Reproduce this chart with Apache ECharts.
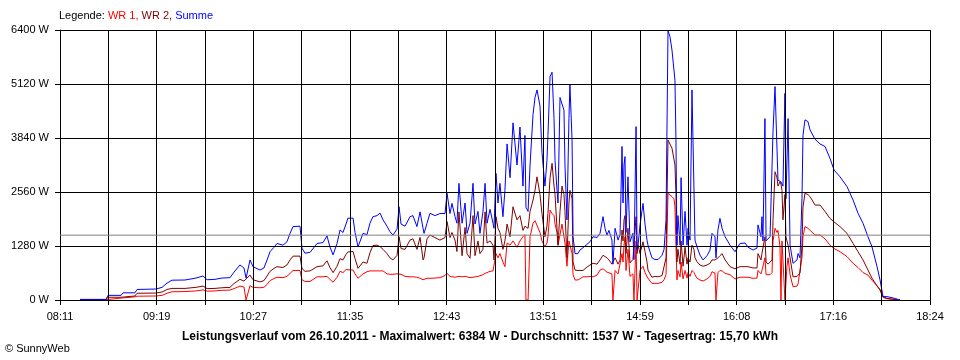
<!DOCTYPE html>
<html><head><meta charset="utf-8">
<script src="https://cdn.jsdelivr.net/npm/echarts@6/dist/echarts.min.js"></script>
<style>html,body{margin:0;padding:0;background:#fff}#c{width:960px;height:360px}</style>
</head><body><div id="c"></div>
<script>
// time of day in minutes since midnight
const times = [505.1,523.4,524.8,534.0,535.4,543.8,545.3,558.6,562.9,566.4,569.9,579.1,586.8,591.8,594.6,600.2,605.1,610.8,613.6,617.8,
620.6,622.1,623.5,624.9,627.0,631.9,634.7,636.9,639.0,641.8,643.9,648.1,650.9,653.1,655.2,660.1,661.5,663.6,667.2,672.1,
676.3,679.1,681.2,683.4,686.2,688.3,690.4,692.5,693.9,697.5,698.9,701.0,702.4,704.5,707.3,709.4,711.5,714.4,716.5,718.6,
721.4,723.5,725.6,728.5,729.9,731.3,734.1,737.6,739.7,742.5,744.7,746.8,747.5,749.6,751.7,755.2,758.7,762.3,763.7,765.8,
767.2,769.3,770.7,772.1,774.3,776.4,777.8,779.9,782.0,783.4,785.5,786.9,789.0,790.5,791.9,794.0,796.1,796.8,798.2,799.6,
801.0,803.1,804.5,806.0,808.1,810.2,813.0,815.1,817.2,818.6,819.3,820.8,822.2,824.3,825.7,827.1,829.2,830.6,832.7,834.1,
834.8,836.3,837.7,839.1,839.8,841.2,841.9,843.3,844.7,846.1,846.8,848.2,849.6,850.3,851.8,852.5,853.9,856.0,857.4,859.5,
862.3,864.4,866.6,869.4,871.5,873.6,875.0,876.4,877.8,879.9,880.6,882.1,884.2,885.6,887.0,887.7,888.4,889.1,889.8,891.2,
892.6,894.7,895.4,896.9,897.6,898.3,899.7,901.8,903.2,904.6,905.3,906.7,908.1,910.2,912.4,915.2,916.6,918.0,919.4,920.8,
922.2,923.6,924.3,925.0,925.7,926.4,927.9,928.6,930.0,931.4,932.8,933.5,934.9,936.3,937.7,938.4,939.8,941.9,944.1,946.9,
949.0,950.4,952.5,953.2,953.9,954.6,956.0,957.5,959.6,963.1,966.6,968.0,970.1,973.7,975.8,979.3,982.1,982.8,984.9,985.6,
986.3,987.7,988.5,989.9,991.3,992.7,993.4,994.8,996.2,996.9,998.3,999.0,999.7,1000.4,1001.8,1002.5,1003.2,1004.0,1005.4,1007.5,
1010.3,1011.0,1012.4,1013.8,1014.5,1015.9,1018.0,1019.5,1020.9,1023.0,1024.4,1026.5,1030.0,1033.5,1036.4,1040.6,1045.5,1049.8,1053.3,1056.8,
1060.3,1063.1,1066.7,1068.8,1070.9,1073.7,1077.9,1082.9];

const summe = [15,15,110,110,170,170,250,260,300,400,470,474,520,570,480,490,520,530,660,830,
760,520,530,950,790,710,760,950,1145,1250,1340,1300,1380,1580,1740,1750,1230,1110,1130,1340,
1360,1520,1260,1070,1340,1660,1600,1800,1940,1940,1600,1260,1300,1580,1550,1820,1975,2000,2060,1900,
1750,1620,1540,1680,2210,1800,1750,1975,2000,1740,2090,1700,1580,1820,2055,2000,2050,2050,2530,2050,
2290,1980,1820,2765,1820,2300,1580,1820,2765,1800,2100,1580,2090,2765,1820,2150,1820,1700,3000,2300,
2765,1975,2600,3700,2900,4200,3200,4100,2700,3900,2200,2100,3200,4400,4800,4980,4600,3500,2700,3300,
3900,5300,5400,4300,3300,2600,2300,4800,4820,4500,3200,1900,4300,5100,3790,1500,1100,1100,1185,1240,
1320,1380,1500,1480,1580,1975,1700,1540,1650,1420,850,1700,1420,1550,3640,2300,3200,3400,1600,2920,
1380,1580,960,4110,1200,1300,1780,2290,1800,1420,1300,1145,1000,960,960,1060,1200,1900,6384,6240,
5925,5880,5210,3800,1300,2000,1300,2900,1300,2100,1300,1700,1420,4980,4980,1420,1265,1065,950,1050,
1185,1580,1500,1000,1000,1660,1935,1700,1500,1300,1145,1185,1340,1350,1250,1185,1230,1780,1500,1975,
1400,4300,1400,1400,1500,1500,4000,5060,5060,2840,2840,2800,2750,2700,4900,2400,2400,4300,1300,870,
950,1100,1000,2400,3900,4270,4230,4030,4000,3810,3790,3700,3640,3360,3080,2920,2690,2370,2055,1820,
1500,1265,790,475,80,80,50,0];

const wr2 = [8,8,65,65,95,95,160,165,190,250,275,275,300,330,270,275,290,300,390,490,
450,500,510,590,480,430,460,570,680,750,790,770,830,950,1040,1040,750,680,690,790,
810,930,770,650,800,980,950,1080,1140,1150,980,750,790,900,870,1120,1290,1300,1265,1200,
1100,1000,950,1060,1500,1220,1200,1420,1450,1200,1485,950,1000,1450,1540,1480,1420,1480,1860,1480,
1600,1420,1150,2090,1050,1720,1100,990,2000,1050,1400,1100,1200,2090,1350,1400,1300,950,1975,1700,
1600,1200,1400,1800,1500,2210,1900,2000,1650,1750,1750,1700,2100,2370,2600,2920,2500,2050,1500,1750,
2050,2900,3240,2700,2500,1700,1300,2100,2700,2500,2100,1000,2300,2600,2400,900,710,700,690,700,
780,830,870,850,950,1060,1100,1000,950,850,850,1000,850,950,1660,1400,1900,2000,1100,1700,
880,960,960,1975,1100,1300,1100,1380,1150,900,710,620,540,560,550,580,620,1000,3790,3750,
3600,3560,3200,2500,900,1200,850,1400,800,1250,850,1000,900,1300,1200,1000,910,830,800,830,
870,950,950,950,950,1000,1050,1100,950,790,740,710,790,790,790,760,760,1100,950,1100,
1100,1500,900,850,900,950,1900,3040,2900,2700,2800,2750,2600,1900,2500,1500,1400,1300,1000,550,
560,600,640,1300,2200,2530,2500,2450,2370,2250,2270,2250,2100,1935,1850,1740,1580,1340,1145,950,
710,520,330,250,80,40,20,0];

const wr1 = [7,7,45,45,75,75,90,95,110,160,195,200,215,240,210,215,230,235,270,330,
310,0,0,340,300,290,300,370,460,510,540,530,560,630,700,700,480,440,440,550,
550,560,490,420,540,680,650,720,720,710,620,515,515,620,670,690,690,690,690,690,
620,610,610,620,640,610,560,550,550,540,515,480,470,515,515,520,530,580,630,560,
560,540,560,560,550,560,550,530,540,540,560,560,600,630,670,680,690,690,1100,1000,
1100,900,790,1350,1300,1400,1250,1400,1500,1550,0,0,1500,1820,1880,1900,1600,1400,1260,1350,
1500,2130,2050,2000,1800,1600,1300,1300,1800,1500,1350,800,1400,1400,1100,600,475,475,500,550,
550,560,550,590,710,740,720,660,640,620,0,700,620,650,1100,900,1300,1500,700,1200,
560,620,0,1400,0,0,710,800,650,550,520,450,395,395,395,420,480,600,2530,2490,
2450,2400,2210,1300,475,700,550,900,500,700,520,650,560,700,650,600,520,475,450,500,
560,670,640,0,0,650,700,690,630,600,500,475,540,540,540,515,520,700,620,700,
700,1000,600,590,600,650,1400,1700,1600,1650,1265,0,1400,1400,0,0,800,1000,600,315,
330,380,420,1000,1500,1740,1700,1650,1620,1540,1560,1540,1450,1300,1220,1145,1030,870,770,650,
590,470,340,230,60,30,15,0];

const average = 1537;
const xTickLabels = ['08:11','','09:19','','10:27','','11:35','','12:43','','13:51','','14:59','','16:08','','17:16','','18:24'];
const yTicks = [0,1280,2560,3840,5120,6400];
const seriesNames = ['WR 1','WR 2','Summe'];
const startMin = 491, endMin = 1104;

const FONT = 'Liberation Sans';
const tickCount = xTickLabels.length - 1;
function toTick(t){ return (t - startMin) * tickCount / (endMin - startMin); }
function pairs(vals){ return times.map((t,i)=>[toTick(t), vals[i]]); }

const chart = echarts.init(document.getElementById('c'), null, {renderer:'canvas'});
function lineSeries(name, vals, color, z){
  return {name, type:'line', data:pairs(vals), showSymbol:false, symbol:'none', z,
    lineStyle:{color, width:1}, itemStyle:{color}, animation:false, silent:true};
}
chart.setOption({
  animation:false,
  backgroundColor:'#fff',
  title:[
    {text:'{k|Legende: }{a|WR 1, }{b|WR 2, }{c|Summe}', left:59, top:10, padding:0,
     textStyle:{fontFamily:FONT, fontSize:11, fontWeight:'normal',
       rich:{k:{color:'#000',fontFamily:FONT,fontSize:11},a:{color:'#ff0000',fontFamily:FONT,fontSize:11},
             b:{color:'#800000',fontFamily:FONT,fontSize:11},c:{color:'#0000ff',fontFamily:FONT,fontSize:11}}}},
    {text:'Leistungsverlauf vom 26.10.2011 - Maximalwert: 6384 W - Durchschnitt: '+average+' W - Tagesertrag: 15,70 kWh',
     left:'center', top:331, padding:0,
     textStyle:{fontFamily:FONT, fontSize:12, fontWeight:'bold', color:'#000'}},
    {text:'\u00A9 SunnyWeb', left:5, top:343, padding:0,
     textStyle:{fontFamily:FONT, fontSize:11, fontWeight:'normal', color:'#000'}}
  ],
  grid:{left:60, right:30, top:30, bottom:60, containLabel:false},
  xAxis:{type:'value', min:0, max:tickCount, interval:1, z:5,
    axisLine:{show:true, lineStyle:{color:'#000', width:1}},
    axisTick:{show:true, length:5, lineStyle:{color:'#000', width:1}},
    axisLabel:{show:true, margin:11, color:'#000', fontFamily:FONT, fontSize:11,
      showMinLabel:true, showMaxLabel:true,
      formatter:(v)=>xTickLabels[Math.round(v)] || ''},
    splitLine:{show:true, lineStyle:{color:'#000', width:1}}},
  yAxis:{type:'value', min:yTicks[0], max:yTicks[yTicks.length-1], interval:yTicks[1]-yTicks[0], z:5,
    axisLine:{show:true, lineStyle:{color:'#000', width:1}},
    axisTick:{show:true, length:5, lineStyle:{color:'#000', width:1}},
    axisLabel:{show:true, margin:11, color:'#000', fontFamily:FONT, fontSize:11,
      formatter:(v)=>v+' W'},
    splitLine:{show:true, lineStyle:{color:'#000', width:1}}},
  series:[
    lineSeries(seriesNames[0], wr1, '#ff0000', 2),
    lineSeries(seriesNames[1], wr2, '#800000', 3),
    lineSeries(seriesNames[2], summe, '#0000ff', 4),
    {type:'line', data:[[0,average],[tickCount,average]], showSymbol:false, symbol:'none', z:6, silent:true,
     lineStyle:{color:'#808080', width:1}}
  ]
});
</script></body></html>
